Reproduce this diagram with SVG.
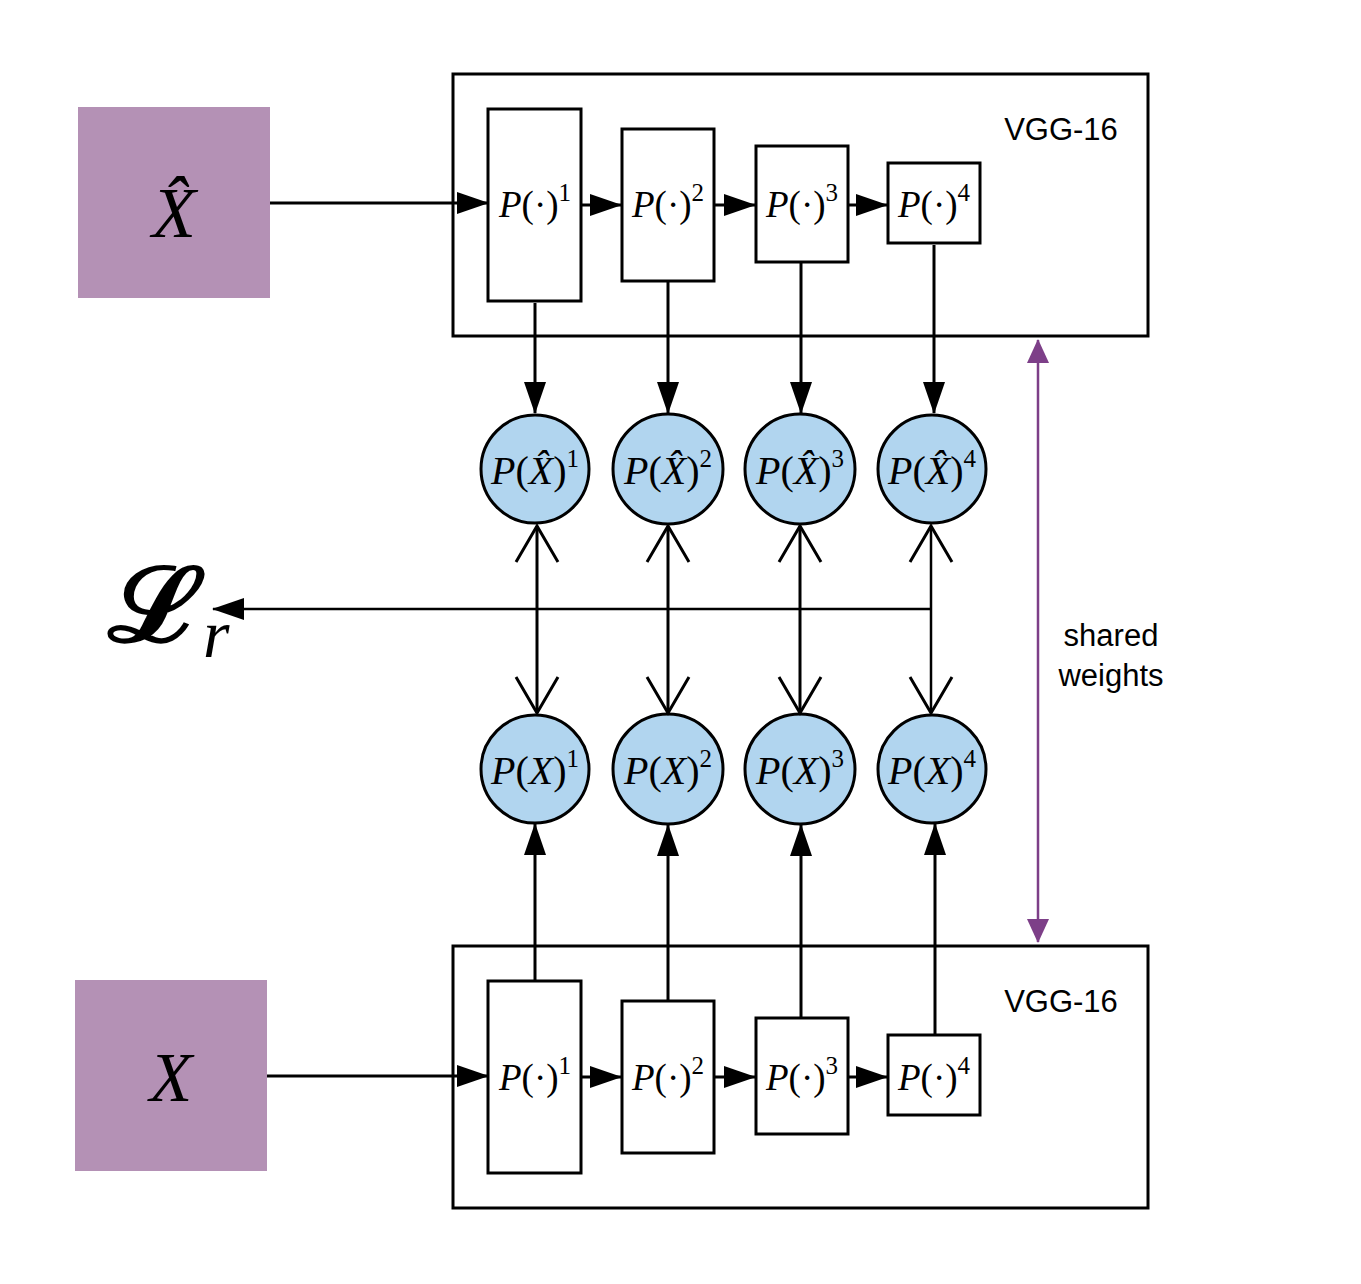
<svg xmlns="http://www.w3.org/2000/svg" width="1361" height="1284" viewBox="0 0 1361 1284">
<style>
.frame{fill:none;stroke:#000;stroke-width:3}
.blk{fill:#fff;stroke:#000;stroke-width:3}
.inp{fill:#b491b5}
.circ{fill:#b1d5ef;stroke:#000;stroke-width:3}
.ln{fill:none;stroke:#000;stroke-width:3}
.thin{fill:none;stroke:#000;stroke-width:2.5}
.pl{fill:none;stroke:#7d3f88;stroke-width:2.5}
.m{font-family:"Liberation Serif","DejaVu Serif",serif;fill:#000}
.i{font-style:italic}
.bl{font-size:37px}
.cl{font-size:40px}
.sup{font-size:25px}
.sans{font-family:"Liberation Sans",Arial,sans-serif;font-size:31px;fill:#000}
</style>
<defs>
<marker id="ah" markerUnits="userSpaceOnUse" markerWidth="32" markerHeight="22" viewBox="0 0 32 22" refX="31" refY="11" orient="auto"><path d="M0,0 L32,11 L0,22 z" fill="#000"/></marker>
<marker id="vh" markerUnits="userSpaceOnUse" markerWidth="44" markerHeight="48" viewBox="0 0 44 48" refX="40" refY="24" orient="auto-start-reverse"><path d="M4,3 L40,24 L4,45" fill="none" stroke="#000" stroke-width="3"/></marker>
<marker id="ph" markerUnits="userSpaceOnUse" markerWidth="24" markerHeight="22" viewBox="0 0 24 22" refX="23" refY="11" orient="auto-start-reverse"><path d="M0,0 L24,11 L0,22 z" fill="#7d3f88"/></marker>
</defs>

<g id="vgg-top"><rect class="frame" x="453" y="74" width="695" height="262"/><text class="sans" x="1061" y="140" text-anchor="middle">VGG-16</text></g>
<g id="vgg-bottom"><rect class="frame" x="453" y="946" width="695" height="262"/><text class="sans" x="1061" y="1012" text-anchor="middle">VGG-16</text></g>

<g id="xhat"><rect class="inp" x="78" y="107" width="192" height="191"/><text class="m i" x="174" y="237" font-size="72" text-anchor="middle">X̂</text></g>
<g id="x"><rect class="inp" x="75" y="980" width="192" height="191"/><text class="m i" x="171" y="1101" font-size="70" text-anchor="middle">X</text></g>

<g id="pt1"><rect class="blk" x="488" y="109" width="93" height="192"/><text class="m bl" x="535" y="217" text-anchor="middle"><tspan class="i">P</tspan>(·)<tspan class="sup" dy="-16">1</tspan></text></g>
<g id="pt2"><rect class="blk" x="622" y="129" width="92" height="152"/><text class="m bl" x="668" y="217" text-anchor="middle"><tspan class="i">P</tspan>(·)<tspan class="sup" dy="-16">2</tspan></text></g>
<g id="pt3"><rect class="blk" x="756" y="146" width="92" height="116"/><text class="m bl" x="802" y="217" text-anchor="middle"><tspan class="i">P</tspan>(·)<tspan class="sup" dy="-16">3</tspan></text></g>
<g id="pt4"><rect class="blk" x="888" y="163" width="92" height="80"/><text class="m bl" x="934" y="217" text-anchor="middle"><tspan class="i">P</tspan>(·)<tspan class="sup" dy="-16">4</tspan></text></g>

<g id="pb1"><rect class="blk" x="488" y="981" width="93" height="192"/><text class="m bl" x="535" y="1090" text-anchor="middle"><tspan class="i">P</tspan>(·)<tspan class="sup" dy="-16">1</tspan></text></g>
<g id="pb2"><rect class="blk" x="622" y="1001" width="92" height="152"/><text class="m bl" x="668" y="1090" text-anchor="middle"><tspan class="i">P</tspan>(·)<tspan class="sup" dy="-16">2</tspan></text></g>
<g id="pb3"><rect class="blk" x="756" y="1018" width="92" height="116"/><text class="m bl" x="802" y="1090" text-anchor="middle"><tspan class="i">P</tspan>(·)<tspan class="sup" dy="-16">3</tspan></text></g>
<g id="pb4"><rect class="blk" x="888" y="1035" width="92" height="80"/><text class="m bl" x="934" y="1090" text-anchor="middle"><tspan class="i">P</tspan>(·)<tspan class="sup" dy="-16">4</tspan></text></g>

<g id="ch1"><circle class="circ" cx="535" cy="469" r="54"/><text class="m cl" x="535" y="484" text-anchor="middle"><tspan class="i">P</tspan>(<tspan class="i">X̂</tspan>)<tspan class="sup" dy="-17">1</tspan></text></g>
<g id="ch2"><circle class="circ" cx="668" cy="469" r="55"/><text class="m cl" x="668" y="484" text-anchor="middle"><tspan class="i">P</tspan>(<tspan class="i">X̂</tspan>)<tspan class="sup" dy="-17">2</tspan></text></g>
<g id="ch3"><circle class="circ" cx="800" cy="469" r="55"/><text class="m cl" x="800" y="484" text-anchor="middle"><tspan class="i">P</tspan>(<tspan class="i">X̂</tspan>)<tspan class="sup" dy="-17">3</tspan></text></g>
<g id="ch4"><circle class="circ" cx="932" cy="469" r="54"/><text class="m cl" x="932" y="484" text-anchor="middle"><tspan class="i">P</tspan>(<tspan class="i">X̂</tspan>)<tspan class="sup" dy="-17">4</tspan></text></g>

<g id="cx1"><circle class="circ" cx="535" cy="769" r="54"/><text class="m cl" x="535" y="784" text-anchor="middle"><tspan class="i">P</tspan>(<tspan class="i">X</tspan>)<tspan class="sup" dy="-17">1</tspan></text></g>
<g id="cx2"><circle class="circ" cx="668" cy="769" r="55"/><text class="m cl" x="668" y="784" text-anchor="middle"><tspan class="i">P</tspan>(<tspan class="i">X</tspan>)<tspan class="sup" dy="-17">2</tspan></text></g>
<g id="cx3"><circle class="circ" cx="800" cy="769" r="55"/><text class="m cl" x="800" y="784" text-anchor="middle"><tspan class="i">P</tspan>(<tspan class="i">X</tspan>)<tspan class="sup" dy="-17">3</tspan></text></g>
<g id="cx4"><circle class="circ" cx="932" cy="769" r="54"/><text class="m cl" x="932" y="784" text-anchor="middle"><tspan class="i">P</tspan>(<tspan class="i">X</tspan>)<tspan class="sup" dy="-17">4</tspan></text></g>

<g id="loss"><text class="m" font-size="98" font-weight="bold" transform="translate(108,641) scale(1.2,1.05)">ℒ</text><text class="m i" x="203" y="657" font-size="68">r</text></g>

<g id="shared-label"><text class="sans" x="1111" y="646" text-anchor="middle">shared</text><text class="sans" x="1111" y="686" text-anchor="middle">weights</text></g>

<g id="connectors">
<line class="ln" x1="270" y1="203" x2="488" y2="203" marker-end="url(#ah)"/>
<line class="ln" x1="581" y1="205" x2="621" y2="205" marker-end="url(#ah)"/>
<line class="ln" x1="714" y1="205" x2="755" y2="205" marker-end="url(#ah)"/>
<line class="ln" x1="848" y1="205" x2="887" y2="205" marker-end="url(#ah)"/>

<line class="ln" x1="267" y1="1076" x2="488" y2="1076" marker-end="url(#ah)"/>
<line class="ln" x1="581" y1="1077" x2="621" y2="1077" marker-end="url(#ah)"/>
<line class="ln" x1="714" y1="1077" x2="755" y2="1077" marker-end="url(#ah)"/>
<line class="ln" x1="848" y1="1077" x2="887" y2="1077" marker-end="url(#ah)"/>

<line class="ln" x1="535" y1="303" x2="535" y2="413" marker-end="url(#ah)"/>
<line class="ln" x1="668" y1="281" x2="668" y2="413" marker-end="url(#ah)"/>
<line class="ln" x1="801" y1="262" x2="801" y2="413" marker-end="url(#ah)"/>
<line class="ln" x1="934" y1="245" x2="934" y2="413" marker-end="url(#ah)"/>

<line class="ln" x1="535" y1="981" x2="535" y2="824" marker-end="url(#ah)"/>
<line class="ln" x1="668" y1="1001" x2="668" y2="825" marker-end="url(#ah)"/>
<line class="ln" x1="801" y1="1018" x2="801" y2="825" marker-end="url(#ah)"/>
<line class="ln" x1="935" y1="1035" x2="935" y2="824" marker-end="url(#ah)"/>

<line class="ln" x1="537" y1="526" x2="537" y2="713" marker-start="url(#vh)" marker-end="url(#vh)"/>
<line class="ln" x1="668" y1="526" x2="668" y2="713" marker-start="url(#vh)" marker-end="url(#vh)"/>
<line class="ln" x1="800" y1="526" x2="800" y2="713" marker-start="url(#vh)" marker-end="url(#vh)"/>
<line class="thin" x1="931" y1="526" x2="931" y2="713" marker-start="url(#vh)" marker-end="url(#vh)"/>

<line class="thin" x1="932" y1="609" x2="213" y2="609" marker-end="url(#ah)"/>

<line class="pl" x1="1038" y1="340" x2="1038" y2="942" marker-start="url(#ph)" marker-end="url(#ph)"/>
</g>
</svg>
